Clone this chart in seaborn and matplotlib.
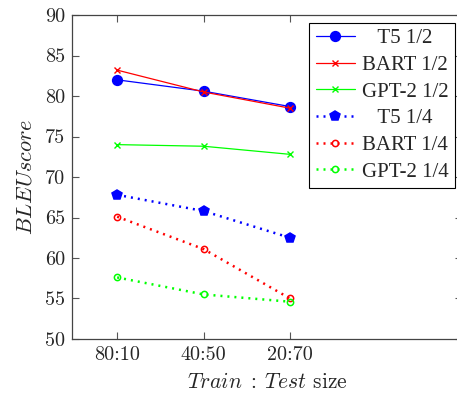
import numpy as np
import pandas as pd
import matplotlib
matplotlib.use("Agg")
import matplotlib.pyplot as plt
import seaborn as sns

# data
splits = ["80:10", "40:50", "20:70"]
t5_half = [82.0, 80.6, 78.7]
bart_half = [83.2, 80.5, 78.5]
gpt2_half = [74.0, 73.8, 72.8]
t5_quarter = [67.8, 65.8, 62.5]
bart_quarter = [65.1, 61.1, 55.0]
gpt2_quarter = [57.6, 55.5, 54.6]
y_ticks = [50, 55, 60, 65, 70, 75, 80, 85, 90]

sns.set_style("ticks")
plt.rcParams["font.family"] = ["Liberation Serif", "DejaVu Serif"]
plt.rcParams["mathtext.fontset"] = "cm"

GREEN = "#00ff00"
# label (padded to look centred like the original legend), values, colour, style, marker, filled
series = [
    ("   T5 1/2", t5_half, "blue", "-", "o", True),
    ("BART 1/2", bart_half, "red", "-", "x", True),
    ("GPT-2 1/2", gpt2_half, GREEN, "-", "x", True),
    ("   T5 1/4", t5_quarter, "blue", ":", "p", True),
    ("BART 1/4", bart_quarter, "red", ":", "o", False),
    ("GPT-2 1/4", gpt2_quarter, GREEN, ":", "o", False),
]

fig = plt.figure(figsize=(4.57, 3.96), dpi=100)
ax = fig.add_axes([0.158, 0.144, 0.853, 0.818])

x = np.arange(len(splits))
for name, vals, col, ls, mk, filled in series:
    df = pd.DataFrame({"x": x, "y": vals})
    solid = ls == "-"
    if mk == "x":
        msize = 5
    elif filled:
        msize = 7
    else:
        msize = 4.5
    line = sns.lineplot(
        data=df, x="x", y="y", ax=ax, color=col,
        linewidth=0.9 if solid else 1.8, label=name,
        marker=mk, markersize=msize,
        markerfacecolor=col if filled else "none",
        markeredgecolor=col,
        markeredgewidth=1.0 if mk == "x" else 1.1,
    ).lines[-1]
    if not solid:
        line.set_dashes((0.8, 2.0))

ax.set_xlim(-0.52, 3.99)
ax.set_ylim(50, 90)
ax.set_xticks(x)
ax.set_xticklabels(splits)
ax.set_yticks(y_ticks)
ax.tick_params(direction="in", top=True, right=True, labelsize=14.5,
               length=5, color="#555555", pad=5)
for lab in ax.get_xticklabels() + ax.get_yticklabels():
    lab.set_fontfamily("cmr10")
for s in ax.spines.values():
    s.set_color("#444444")
    s.set_linewidth(0.9)

ax.set_xlabel(r"$Train\;:\;Test$ size", fontsize=15.5, fontfamily="cmr10",
              labelpad=6)
ax.set_ylabel(r"$BLEU score$", fontsize=16, labelpad=6)

leg = ax.legend(loc="upper right", fontsize=15, fancybox=False,
                edgecolor="black", framealpha=1, borderaxespad=0.36,
                handlelength=1.9, handletextpad=0.3, labelspacing=0.34,
                borderpad=0.3)
leg.get_frame().set_linewidth(0.8)

fig.savefig("out.png", dpi=100)
